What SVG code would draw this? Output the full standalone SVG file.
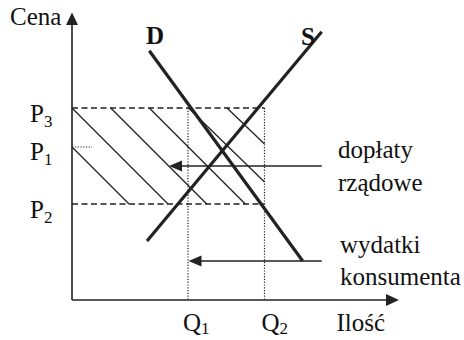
<svg xmlns="http://www.w3.org/2000/svg" width="464" height="340" viewBox="0 0 464 340">
<defs>
<style>
text{font-family:"Liberation Serif","Times New Roman",serif;font-size:25px;fill:#111}
.sub{font-size:17px}
.b{font-weight:bold}
.ax{stroke:#222;stroke-width:1.6;fill:none}
.curve{stroke:#222;stroke-width:3.2;fill:none}
.hatch{stroke:#222;stroke-width:1.3;fill:none}
.dash{stroke:#222;stroke-width:1.3;stroke-dasharray:6,3.5;fill:none}
.dot{stroke:#222;stroke-width:1.2;stroke-dasharray:1.2,1.6;fill:none}
.arr{stroke:#222;stroke-width:1.5;fill:none}
.head{fill:#222}
</style>
</defs>
<rect width="464" height="340" fill="#fff"/>
<g id="axes">
<line class="ax" x1="72" y1="300" x2="72" y2="24"/>
<polygon class="head" points="72,12.5 66,25 78,25"/>
<line class="ax" x1="72" y1="300" x2="388" y2="300"/>
<polygon class="head" points="399,300 386,294 386,306"/>
</g>
<g id="hatching">
<line class="hatch" x1="72" y1="147" x2="129" y2="204"/>
<line class="hatch" x1="72" y1="108" x2="168" y2="204"/>
<line class="hatch" x1="110.7" y1="108" x2="206.7" y2="204"/>
<line class="hatch" x1="149.3" y1="108" x2="245.3" y2="204"/>
<line class="hatch" x1="188.5" y1="108" x2="264.5" y2="182"/>
<line class="hatch" x1="227" y1="108" x2="264.5" y2="144"/>
</g>
<g id="guides">
<line class="dash" x1="72" y1="108" x2="264.5" y2="108"/>
<line class="dash" x1="72" y1="204" x2="264.5" y2="204"/>
<line class="dot" x1="72" y1="147" x2="92" y2="147"/>
<line class="dot" x1="188" y1="108" x2="188" y2="300"/>
<line class="dot" x1="264.5" y1="108" x2="264.5" y2="300"/>
</g>
<g id="D">
<line class="curve" x1="149.3" y1="50.7" x2="302.7" y2="261"/>
<text class="b" x="146" y="43.5">D</text>
</g>
<g id="S">
<line class="curve" x1="147" y1="241" x2="321.7" y2="31.7"/>
<text class="b" x="301" y="44.5">S</text>
</g>
<g id="connectors">
<line class="arr" x1="321.7" y1="166" x2="180" y2="166"/>
<polygon class="head" points="169,166 182,160.5 182,171.5"/>
<line class="arr" x1="321.7" y1="261" x2="199" y2="261"/>
<polygon class="head" points="188.5,261 201.5,255.5 201.5,266.5"/>
</g>
<g id="labels">
<text x="10" y="25">Cena</text>
<text x="30" y="122">P<tspan class="sub" dy="5">3</tspan></text>
<text x="30" y="160">P<tspan class="sub" dy="5">1</tspan></text>
<text x="30" y="218">P<tspan class="sub" dy="5">2</tspan></text>
<text x="183" y="331">Q<tspan class="sub" dy="3">1</tspan></text>
<text x="261.5" y="331">Q<tspan class="sub" dy="3">2</tspan></text>
<text x="336.5" y="331">Ilość</text>
</g>
<g id="label-doplaty">
<text x="338" y="158">dopłaty</text>
<text x="338" y="191">rządowe</text>
</g>
<g id="label-wydatki">
<text x="340" y="253">wydatki</text>
<text x="340" y="285">konsumenta</text>
</g>
</svg>
